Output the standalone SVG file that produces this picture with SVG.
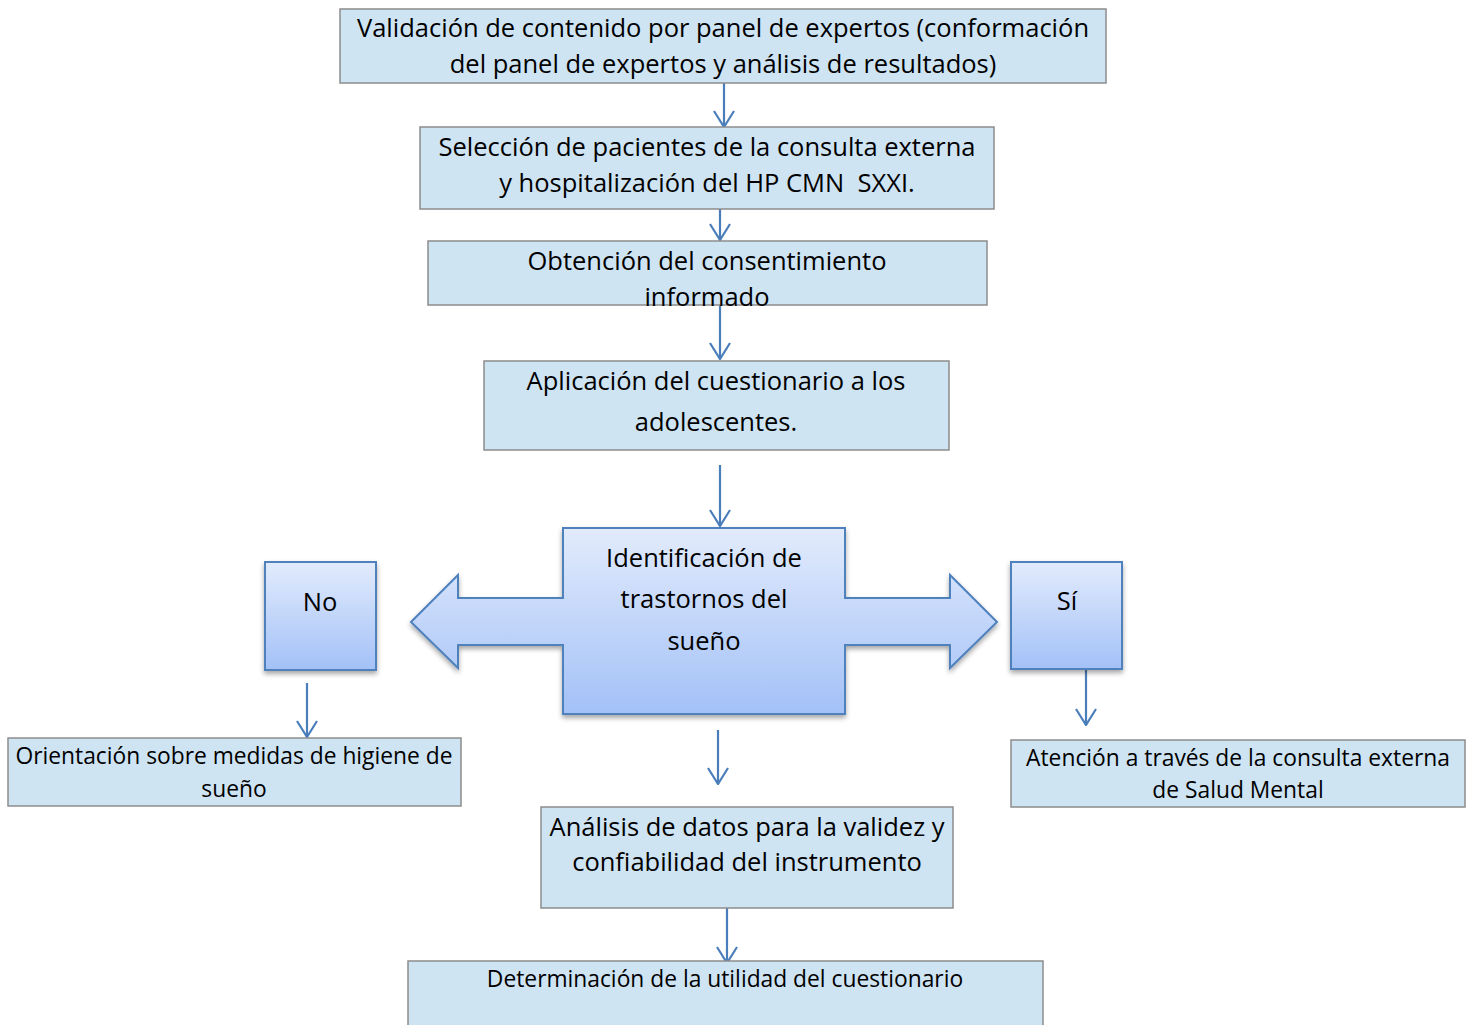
<svg xmlns="http://www.w3.org/2000/svg" width="1476" height="1025" viewBox="0 0 1476 1025">
<defs>
<style>
.box{fill:#cfe4f3;stroke:#8c8c8c;stroke-width:1.5}
.grad{fill:url(#g);stroke:#4f81bd;stroke-width:2;filter:url(#sh)}
.t{font-family:"Open Sans","Noto Sans","Liberation Sans",sans-serif;font-size:25.5px;fill:#000;text-anchor:middle}
.s{font-size:22.8px}
.c{stroke:#4a7ebb;stroke-width:2.2;fill:none;marker-end:url(#ah)}
</style>
<linearGradient id="g" x1="0" y1="0" x2="0" y2="1">
<stop offset="0" stop-color="#e2ebfc"/>
<stop offset="1" stop-color="#a3c1f7"/>
</linearGradient>
<filter id="sh" x="-10%" y="-10%" width="120%" height="130%">
<feDropShadow dx="0" dy="3" stdDeviation="2.5" flood-color="#000" flood-opacity="0.35"/>
</filter>
<marker id="ah" viewBox="0 0 18 22" refX="17" refY="11" markerWidth="18" markerHeight="22" markerUnits="userSpaceOnUse" orient="auto">
<path d="M1,1 L17,11 L1,21" fill="none" stroke="#4a7ebb" stroke-width="2.2"/>
</marker>
</defs>
<g id="connectors">
<line class="c" x1="724" y1="83" x2="724" y2="127"/>
<line class="c" x1="720" y1="209" x2="720" y2="240"/>
<line class="c" x1="720" y1="305" x2="720" y2="359"/>
<line class="c" x1="720" y1="465" x2="720" y2="526"/>
<line class="c" x1="307" y1="683" x2="307" y2="737"/>
<line class="c" x1="1086" y1="670" x2="1086" y2="725"/>
<line class="c" x1="718" y1="730" x2="718" y2="784"/>
<line class="c" x1="727" y1="908" x2="727" y2="963"/>
</g>
<g id="n1">
<rect class="box" x="340" y="9" width="766" height="74"/>
<text class="t" x="723" y="37">Validación de contenido por panel de expertos (conformación</text>
<text class="t" x="723" y="73">del panel de expertos y análisis de resultados)</text>
</g>
<g id="n2">
<rect class="box" x="420" y="127" width="574" height="82"/>
<text class="t" x="707" y="156">Selección de pacientes de la consulta externa</text>
<text class="t" x="707" y="192">y hospitalización del HP CMN&#160; SXXI.</text>
</g>
<g id="n3">
<rect class="box" x="428" y="241" width="559" height="64"/>
<text class="t" x="707" y="270">Obtención del consentimiento</text>
<text class="t" x="707" y="306">informado</text>
</g>
<g id="n4">
<rect class="box" x="484" y="361" width="465" height="89"/>
<text class="t" x="716" y="390">Aplicación del cuestionario a los</text>
<text class="t" x="716" y="431">adolescentes.</text>
</g>
<g id="n5">
<polygon class="grad" points="411,622 458,575 458,598 563,598 563,528 845,528 845,598 950,598 950,575 997,622 950,668 950,645 845,645 845,714 563,714 563,645 458,645 458,668"/>
<text class="t" x="704" y="567">Identificación de</text>
<text class="t" x="704" y="608">trastornos del</text>
<text class="t" x="704" y="650">sueño</text>
</g>
<g id="n6">
<rect class="grad" x="265" y="562" width="111" height="108"/>
<text class="t" x="320" y="611">No</text>
</g>
<g id="n7">
<rect class="grad" x="1011" y="562" width="111" height="107"/>
<text class="t" x="1067" y="610">Sí</text>
</g>
<g id="n8">
<rect class="box" x="8" y="738" width="453" height="68"/>
<text class="t s" x="234" y="764">Orientación sobre medidas de higiene de</text>
<text class="t s" x="234" y="797">sueño</text>
</g>
<g id="n9">
<rect class="box" x="1011" y="740" width="454" height="67"/>
<text class="t s" x="1238" y="766">Atención a través de la consulta externa</text>
<text class="t s" x="1238" y="798">de Salud Mental</text>
</g>
<g id="n10">
<rect class="box" x="541" y="807" width="412" height="101"/>
<text class="t" x="747" y="836">Análisis de datos para la validez y</text>
<text class="t" x="747" y="871">confiabilidad del instrumento</text>
</g>
<g id="n11">
<rect class="box" x="408" y="961" width="635" height="70"/>
<text class="t s" x="725" y="987">Determinación de la utilidad del cuestionario</text>
</g>
</svg>
